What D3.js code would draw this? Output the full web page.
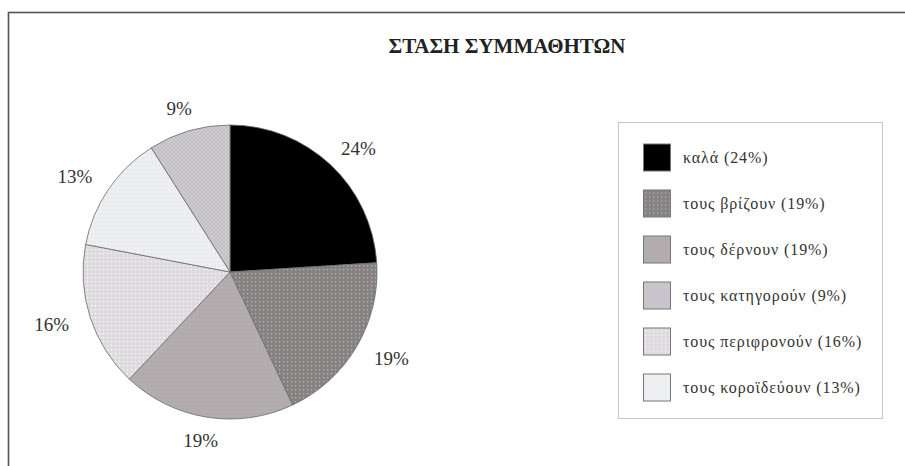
<!DOCTYPE html>
<html>
<head>
<meta charset="utf-8">
<script src="https://cdn.jsdelivr.net/npm/d3@7"></script>
<style>
  body { margin: 0; background: #fff; }
  svg { display: block; font-family: "Liberation Serif", "DejaVu Serif", serif; }
</style>
</head>
<body>
<svg id="chart" width="905" height="466"></svg>
<script>
// data
const title = "ΣΤΑΣΗ ΣΥΜΜΑΘΗΤΩΝ";
const categories = ["καλά", "τους βρίζουν", "τους δέρνουν", "τους κατηγορούν", "τους περιφρονούν", "τους κοροϊδεύουν"];
const values = [24, 19, 19, 9, 16, 13];

// look
const WIDTH = 905, HEIGHT = 466;
const CX = 230, CY = 272, R = 147, LABEL_R = 170;
const palette = [
  { base: "#000000", dot: "#000000" },
  { base: "#878282", dot: "#b4bcc4" },
  { base: "#b3adad", dot: "#a29ebc" },
  { base: "#cfcccf", dot: "#b9b9c4", hatch: true },
  { base: "#dddbdd", dot: "#ffffff" },
  { base: "#efefef", dot: "#d6e2ee" }
];

const svg = d3.select("#chart");
const defs = svg.append("defs");

palette.forEach((p, i) => {
  const pat = defs.append("pattern")
    .attr("id", "fill" + i)
    .attr("patternUnits", "userSpaceOnUse")
    .attr("width", 4).attr("height", 4);
  pat.append("rect").attr("width", 4).attr("height", 4).attr("fill", p.base);
  if (p.hatch) {
    pat.append("path").attr("d", "M0,0L4,4M4,0L0,4").attr("stroke", p.dot).attr("stroke-width", 0.7);
  } else {
    pat.append("rect").attr("x", 1).attr("y", 1).attr("width", 1.2).attr("height", 1.2).attr("fill", p.dot);
  }
});

// outer frame
svg.append("rect")
  .attr("x", 8.5).attr("y", 12.5)
  .attr("width", 910).attr("height", 470)
  .attr("fill", "none")
  .attr("stroke", "#555")
  .attr("stroke-width", 1.6);

svg.append("text")
  .attr("x", 507).attr("y", 53)
  .attr("text-anchor", "middle")
  .style("font-size", "21px")
  .style("font-weight", "bold")
  .style("fill", "#222")
  .text(title);

// pie
const rows = categories.map((c, i) => ({ name: c, value: values[i], idx: i }));
const pie = d3.pie().value(d => d.value); // default sort: largest first, clockwise from top
const arcs = pie(rows);

const arc = d3.arc().innerRadius(0).outerRadius(R);
const labelArc = d3.arc().innerRadius(LABEL_R).outerRadius(LABEL_R);

const g = svg.append("g").attr("transform", "translate(" + CX + "," + CY + ")");

g.selectAll("path")
  .data(arcs)
  .enter()
  .append("path")
  .attr("d", arc)
  .attr("fill", d => "url(#fill" + d.data.idx + ")")
  .attr("stroke", "#6a6a6a")
  .attr("stroke-width", 0.8);

const labels = g.selectAll("text")
  .data(arcs)
  .enter()
  .append("text")
  .attr("text-anchor", "middle")
  .attr("dy", "0.35em")
  .style("font-size", "19px")
  .style("fill", "#333")
  .text(d => d.data.value + "%");

// push each label outward by half its width, so it sits clear of the rim
labels.attr("transform", function(d) {
  const c = labelArc.centroid(d);
  const mid = (d.startAngle + d.endAngle) / 2;
  const w = this.getComputedTextLength();
  return "translate(" + (c[0] + Math.sin(mid) * w / 2) + "," + c[1] + ")";
});

// legend
const legend = svg.append("g");
legend.append("rect")
  .attr("x", 618.5).attr("y", 122.5)
  .attr("width", 264).attr("height", 296)
  .attr("fill", "#fff")
  .attr("stroke", "#8a8a8a")
  .attr("stroke-dasharray", "1,1");

const rowY = d3.scalePoint()
  .domain(d3.range(categories.length))
  .range([157.5, 387.5]);

const item = legend.selectAll("g.item")
  .data(rows)
  .enter()
  .append("g")
  .attr("class", "item")
  .attr("transform", d => "translate(0," + rowY(d.idx) + ")");

item.append("rect")
  .attr("x", 643.5).attr("y", -13.5)
  .attr("width", 27).attr("height", 27)
  .attr("fill", d => "url(#fill" + d.idx + ")")
  .attr("stroke", "#777")
  .attr("stroke-width", 1);

item.append("text")
  .attr("x", 683).attr("y", 5)
  .style("font-size", "16px")
  .style("letter-spacing", "0.9px")
  .style("fill", "#333")
  .text(d => d.name + " (" + d.value + "%)");
</script>
</body>
</html>
